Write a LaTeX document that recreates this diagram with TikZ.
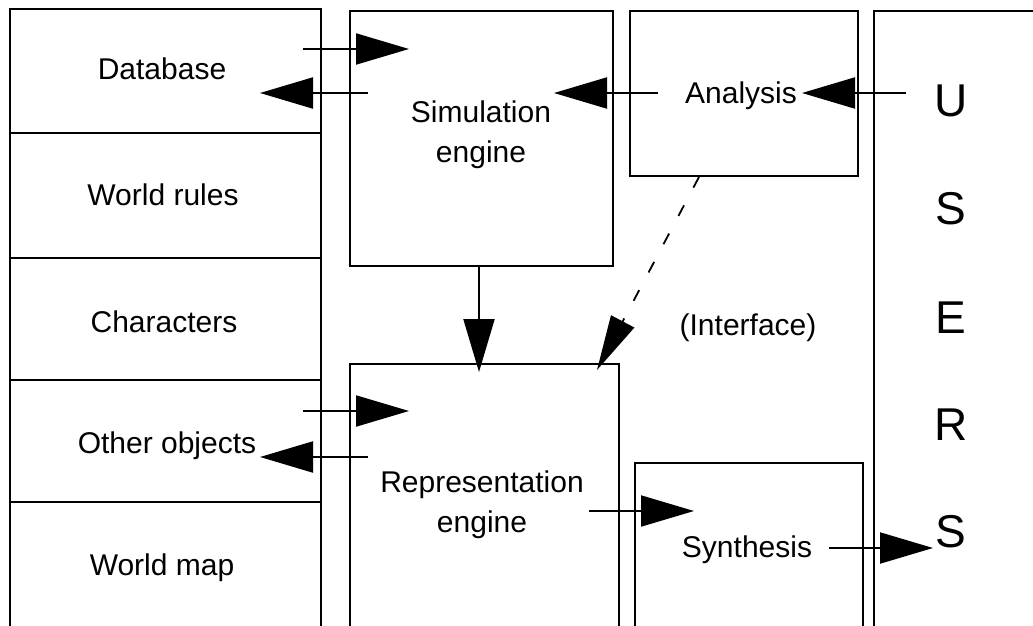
\documentclass[tikz,border=0pt]{standalone}
\usepackage{fontspec}
\setmainfont{Liberation Sans}
\usetikzlibrary{arrows.meta}
\begin{document}
\begin{tikzpicture}[x=1pt,y=-1pt,
  box/.style={line width=2pt},
  lbl/.style={inner sep=0pt, font=\fontsize{30}{40}\selectfont, anchor=base},
  ml/.style={inner sep=0pt, font=\fontsize{30}{40}\selectfont, align=center},
  usr/.style={inner sep=0pt, font=\fontsize{46}{50}\selectfont, anchor=base},
  arr/.style={line width=2pt, -{Triangle[length=53pt,width=31pt]}},
  darr/.style={line width=1.8pt, dash pattern=on 12pt off 20pt, -{Triangle[length=55pt,width=26pt]}}]
\useasboundingbox (0,0) rectangle (1033,626);
\fill[white] (0,0) rectangle (1033,626);
\clip (0,0) rectangle (1033,626);
% left column
\draw[box] (9.5,640) -- (9.5,9.5) -- (321,9.5) -- (321,640);
\foreach \yy in {133,258,380,502} \draw[box] (9.5,\yy) -- (321,\yy);
% boxes
\draw[box] (349.5,11.5) rectangle (613,266);
\draw[box] (630,11.5) rectangle (858,175.5);
\draw[box] (1040,11.5) -- (874,11.5) -- (874,640);
\draw[box] (349.5,640) -- (349.5,363.5) -- (618.5,363.5) -- (618.5,640);
\draw[box] (635,640) -- (635,462.5) -- (863,462.5) -- (863,640);
% labels
\node[lbl] (db) at (162,80) {Database};
\node[lbl] (wr) at (163,205) {World rules};
\node[lbl] (ch) at (164,332) {Characters};
\node[lbl] (oo) at (167,453) {Other objects};
\node[lbl] (wm) at (162,575) {World map};
\node[ml] (sim) at (481,135) {Simulation\\engine};
\node[lbl] (an) at (741,103) {Analysis};
\node[lbl] (itf) at (748,335) {(Interface)};
\node[ml] (rep) at (482,505) {Representation\\engine};
\node[lbl] (syn) at (747,557) {Synthesis};
\node[usr] (u1) at (951,116) {U};
\node[usr] (u2) at (951,224) {S};
\node[usr] (u3) at (951,333) {E};
\node[usr] (u4) at (951,440) {R};
\node[usr] (u5) at (951,547) {S};
% connector end points
\coordinate (a1s) at (303,49);  \coordinate (a1e) at (409,49);
\coordinate (a2s) at (368,93);  \coordinate (a2e) at (260,93);
\coordinate (a3s) at (658,93);  \coordinate (a3e) at (554,93);
\coordinate (a4s) at (906,93);  \coordinate (a4e) at (802,93);
\coordinate (a5s) at (479,266); \coordinate (a5e) at (479,372);
\coordinate (a6s) at (699,177); \coordinate (a6e) at (597,370);
\coordinate (a7s) at (303,411); \coordinate (a7e) at (409,411);
\coordinate (a8s) at (368,457); \coordinate (a8e) at (260,457);
\coordinate (a9s) at (589,511); \coordinate (a9e) at (694,511);
\coordinate (a10s) at (829,548); \coordinate (a10e) at (933,548);
% connectors
\draw[arr] (a1s) -- (a1e);
\draw[arr] (a2s) -- (a2e);
\draw[arr] (a3s) -- (a3e);
\draw[arr] (a4s) -- (a4e);
\draw[arr] (a5s) -- (a5e);
\draw[darr] (a6s) -- (a6e);
\draw[arr] (a7s) -- (a7e);
\draw[arr] (a8s) -- (a8e);
\draw[arr] (a9s) -- (a9e);
\draw[arr] (a10s) -- (a10e);
\end{tikzpicture}
\end{document}
